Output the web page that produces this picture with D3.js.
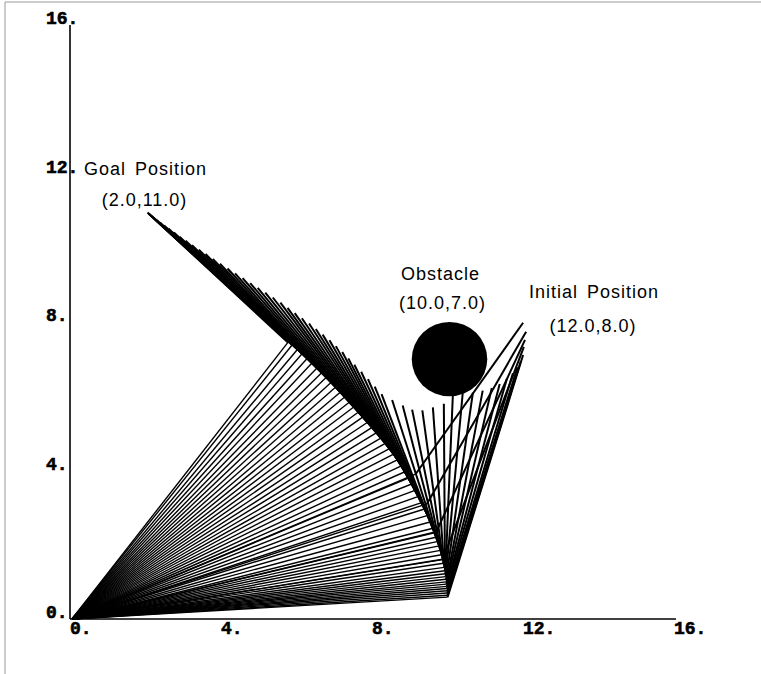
<!DOCTYPE html>
<html>
<head>
<meta charset="utf-8">
<script src="https://cdn.jsdelivr.net/npm/d3@7"></script>
<style>
  body { margin: 0; background: #fff; }
  svg { display: block; }
  .tick-lbl { font-family: "Liberation Mono", "DejaVu Sans Mono", monospace; font-weight: bold; font-size: 18px; stroke: #000; stroke-width: 0.6px; }
  .note { font-family: "Liberation Sans", Arial, sans-serif; font-size: 18px; letter-spacing: 1px; word-spacing: 3px; }
</style>
</head>
<body>
<svg id="chart" width="761" height="674"></svg>
<script>
// axis ticks
const ticks = [0, 4, 8, 12, 16]

// arm configurations along the path
// link 1: base (0,0) -> elbow, link 2: elbow -> end point
const elbows = [
  [9.10, 3.90], [9.40, 3.10], [9.65, 2.35], [9.82, 1.60],
  [9.95, 0.59], [9.95, 0.64], [9.94, 0.70], [9.94, 0.76], [9.93, 0.82], [9.93, 0.88],
  [9.92, 0.94], [9.92, 1.00], [9.91, 1.07], [9.90, 1.14], [9.89, 1.22], [9.88, 1.30],
  [9.86, 1.39], [9.84, 1.50], [9.82, 1.61], [9.79, 1.73], [9.76, 1.85], [9.73, 1.97],
  [9.70, 2.09], [9.67, 2.21], [9.63, 2.33], [9.59, 2.45],
  [9.51, 2.62], [9.43, 2.79], [9.36, 2.97], [9.28, 3.14], [9.20, 3.31], [9.12, 3.48],
  [9.03, 3.65], [8.94, 3.81], [8.85, 3.98], [8.74, 4.13], [8.63, 4.29], [8.52, 4.44],
  [8.41, 4.59], [8.30, 4.73], [8.18, 4.87], [8.07, 5.02], [7.95, 5.16], [7.83, 5.30],
  [7.72, 5.45], [7.61, 5.59], [7.49, 5.73], [7.37, 5.86], [7.25, 6.00], [7.13, 6.13],
  [7.01, 6.27], [6.89, 6.40], [6.76, 6.53], [6.64, 6.66], [6.51, 6.78], [6.37, 6.91],
  [6.24, 7.03], [6.10, 7.15], [5.97, 7.26], [5.83, 7.38], [5.72, 7.45]
]
const tips = [
  [11.95, 7.98], [12.03, 7.74], [12.00, 7.52], [11.97, 7.33],
  [11.95, 7.11], [11.89, 6.95], [11.80, 6.78], [11.68, 6.62], [11.52, 6.47], [11.33, 6.33],
  [11.12, 6.22], [10.88, 6.15], [10.62, 6.10], [10.35, 6.08], [10.09, 6.06], [9.85, 5.80],
  [9.56, 5.70], [9.28, 5.62], [9.01, 5.64], [8.76, 5.75], [8.48, 5.90], [8.20, 6.06],
  [8.02, 6.26], [7.84, 6.46], [7.66, 6.66], [7.48, 6.85],
  [7.32, 7.02], [7.16, 7.19], [6.99, 7.35], [6.82, 7.51], [6.64, 7.66], [6.46, 7.81],
  [6.28, 7.96], [6.09, 8.10], [5.90, 8.24], [5.71, 8.38], [5.52, 8.52], [5.32, 8.66],
  [5.12, 8.79], [4.92, 8.92], [4.72, 9.05], [4.52, 9.18], [4.32, 9.31], [4.12, 9.44],
  [3.92, 9.57], [3.73, 9.70], [3.54, 9.83], [3.36, 9.95], [3.18, 10.07], [3.01, 10.19],
  [2.85, 10.30], [2.70, 10.41], [2.56, 10.51], [2.44, 10.60], [2.33, 10.68], [2.24, 10.75],
  [2.16, 10.81], [2.10, 10.86], [2.05, 10.90], [2.02, 10.93], [2.00, 10.95]
]

const obstacle = {x: 10.0, y: 7.0, r: 1.0}
const goal = {x: 2.0, y: 11.0}
const start = {x: 12.0, y: 8.0}

const svg = d3.select("#chart")

const x = d3.scaleLinear().domain([0, 16]).range([72, 676])
const y = d3.scaleLinear().domain([0, 16]).range([619, 25])

// page frame of the scan
svg.append("path")
    .attr("d", "M5,674 L5,2 L761,2")
    .attr("fill", "none")
    .attr("stroke", "#999")
    .attr("stroke-width", 1)

// axes
svg.append("line")
    .attr("x1", x(0) - 2).attr("x2", x(0) - 2)
    .attr("y1", y(16)).attr("y2", y(0))
    .attr("stroke", "#000").attr("stroke-width", 1.6)
svg.append("line")
    .attr("x1", x(0) - 2).attr("x2", x(16))
    .attr("y1", y(0)).attr("y2", y(0))
    .attr("stroke", "#000").attr("stroke-width", 1.6)

svg.selectAll(".xl")
    .data(ticks)
    .join("text")
    .attr("class", "tick-lbl")
    .attr("x", d => x(d) - 2)
    .attr("y", y(0) + 15)
    .text(d => d + ".")

svg.selectAll(".yl")
    .data(ticks)
    .join("text")
    .attr("class", "tick-lbl")
    .attr("x", 46)
    .attr("y", d => y(d) - 1)
    .text(d => d + ".")

// arm links
const line = d3.line().x(d => x(d[0])).y(d => y(d[1]))
const arm = svg.append("g")
    .attr("fill", "none")
    .attr("stroke", "#000")

arm.selectAll(".link1")
    .data(elbows)
    .join("path")
    .attr("class", "link1")
    .attr("stroke-width", 1.4)
    .attr("d", e => line([[0, 0], e]))

arm.selectAll(".link2")
    .data(elbows.map((e, i) => [e, tips[i]]))
    .join("path")
    .attr("class", "link2")
    .attr("stroke-width", 2)
    .attr("d", line)

// obstacle
svg.append("ellipse")
    .attr("cx", x(obstacle.x))
    .attr("cy", y(obstacle.y))
    .attr("rx", x(obstacle.r) - x(0))
    .attr("ry", y(0) - y(obstacle.r))
    .attr("fill", "#000")

// labels
const note = (tx, ty, s) => svg.append("text")
    .attr("class", "note")
    .attr("x", tx).attr("y", ty)
    .attr("text-anchor", "middle")
    .text(s)

note(x(goal.x) - 2, y(goal.y) - 36, "Goal Position")
note(x(goal.x) - 3, y(goal.y) - 5, "(2.0,11.0)")
note(x(obstacle.x) - 9, y(obstacle.y + obstacle.r) - 42, "Obstacle")
note(x(obstacle.x) - 7, y(obstacle.y + obstacle.r) - 13, "(10.0,7.0)")
note(x(start.x) + 69, y(start.y) - 24, "Initial Position")
note(x(start.x) + 68, y(start.y) + 10, "(12.0,8.0)")
</script>
</body>
</html>
